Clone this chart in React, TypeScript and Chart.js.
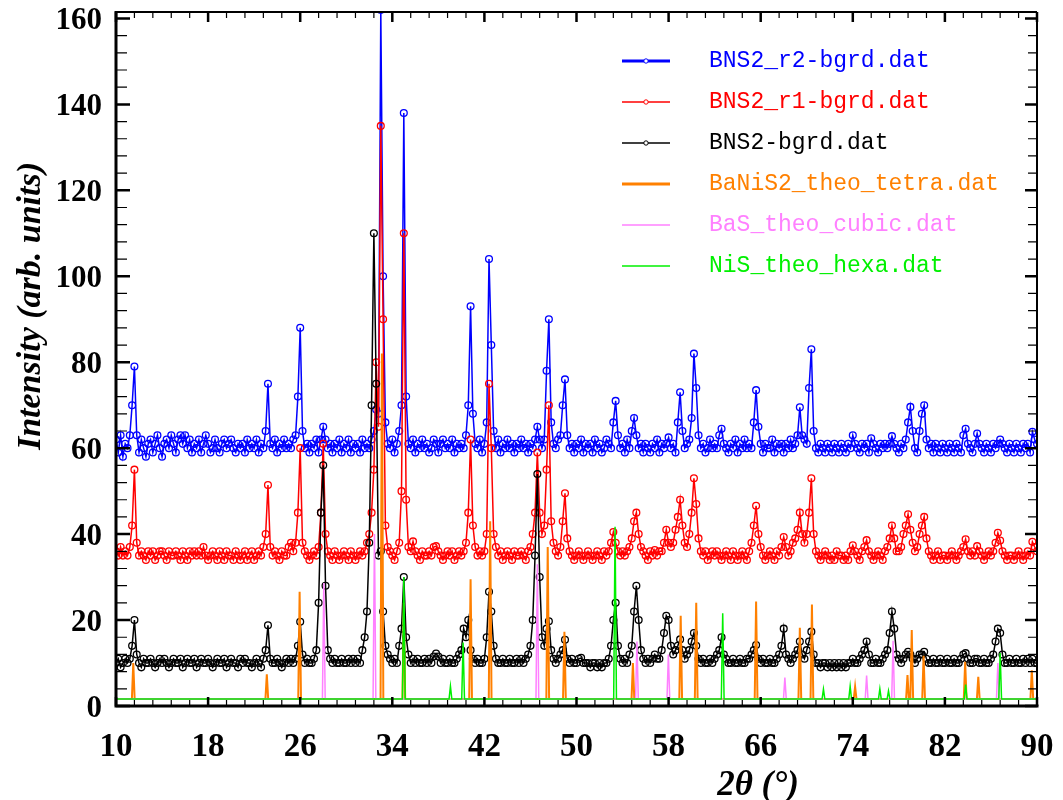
import React, { useEffect, useRef } from 'react';
import { Chart, registerables } from 'chart.js';

Chart.register(...registerables);

// ---- measured patterns: 2θ grid start / step (10.0 … 90.0, 0.2° step) ----
const angleStart = 10;
const angleStep = 0.2;

// BNS2_r2-bgrd.dat (blue)
const bns2R2 = [
  62, 59, 63, 58, 61, // 10
  60, 63, 70, 79, 63, // 11
  59, 62, 60, 58, 61, // 12
  62, 59, 61, 63, 60, // 13
  58, 61, 62, 60, 63, // 14
  61, 59, 62, 63, 61, // 15
  63, 60, 62, 59, 61, // 16
  60, 62, 59, 61, 63, // 17
  61, 59, 60, 62, 60, // 18
  59, 61, 62, 60, 61, // 19
  62, 60, 59, 61, 60, // 20
  61, 59, 62, 60, 61, // 21
  60, 62, 59, 61, 60, // 22
  64, 75, 61, 60, 62, // 23
  59, 61, 60, 62, 60, // 24
  61, 60, 62, 63, 72, // 25
  88, 64, 60, 61, 59, // 26
  61, 60, 62, 59, 62, // 27
  65, 62, 60, 61, 59, // 28
  61, 60, 62, 59, 61, // 29
  60, 62, 59, 61, 60, // 30
  61, 59, 62, 60, 61, // 31
  60, 62, 64, 69, 68, // 32
  162, 100, 66, 61, 60, // 33
  62, 59, 61, 64, 70, // 34
  138, 72, 61, 60, 62, // 35
  59, 61, 60, 62, 60, // 36
  61, 59, 60, 62, 61, // 37
  59, 61, 62, 60, 61, // 38
  60, 62, 59, 61, 60, // 39
  61, 60, 63, 70, 93, // 40
  68, 61, 60, 62, 59, // 41
  61, 66, 104, 84, 64, // 42
  60, 62, 59, 61, 60, // 43
  62, 60, 61, 59, 61, // 44
  60, 62, 60, 61, 59, // 45
  61, 60, 62, 65, 62, // 46
  60, 62, 78, 90, 66, // 47
  61, 60, 62, 63, 70, // 48
  76, 63, 60, 61, 59, // 49
  61, 60, 62, 59, 61, // 50
  60, 61, 59, 62, 60, // 51
  61, 59, 60, 62, 61, // 52
  60, 66, 71, 63, 60, // 53
  61, 59, 62, 60, 64, // 54
  67, 63, 60, 61, 59, // 55
  61, 60, 59, 61, 60, // 56
  62, 59, 61, 60, 61, // 57
  62.5, 60, 61, 59, 66, // 58
  73, 64, 60, 61, 62, // 59
  67, 82, 74, 63, 60, // 60
  61, 59, 60, 62, 60, // 61
  61, 60, 63, 64.5, 61, // 62
  60, 59, 61, 60, 62, // 63
  59, 61, 60, 62, 60, // 64
  61, 60, 66, 73.5, 65, // 65
  61, 59, 61, 60, 60, // 66
  62, 59, 61, 60, 61, // 67
  59, 61, 60, 62, 60, // 68
  61, 63, 69.5, 63, 62, // 69
  61, 74, 83, 64, 60, // 70
  59, 61, 60, 59, 61, // 71
  60, 59, 61, 60, 59, // 72
  61, 60, 59, 61, 60, // 73
  63, 61, 60, 59, 61, // 74
  60, 61, 59, 62.3, 61, // 75
  60, 59, 61, 60, 61, // 76
  60, 61, 62.8, 61, 60, // 77
  59, 61, 60, 62, 66, // 78
  69.6, 64, 60, 59, 64, // 79
  68, 70, 62, 60, 61, // 80
  59, 61, 60, 59, 61, // 81
  60, 59, 61, 60, 59, // 82
  61, 60, 59, 63, 64.5, // 83
  61, 60, 59, 61, 63.4, // 84
  61, 60, 59, 61, 60, // 85
  59, 61, 60, 61, 62, // 86
  61, 60, 59, 61, 60, // 87
  59, 61, 60, 59, 61, // 88
  60, 61, 59, 63.8, 62, // 89
  61, // 90
];

// BNS2_r1-bgrd.dat (red)
const bns2R1 = [
  36, 35, 37, 35, 36, // 10
  35, 37, 42, 55, 38, // 11
  35, 36, 35, 34, 36, // 12
  35, 36, 34, 35, 36, // 13
  36, 35, 34, 36, 35, // 14
  35, 36, 35, 34, 36, // 15
  35, 34, 36, 35, 36, // 16
  35, 36, 35, 37, 35, // 17
  34, 35, 36, 35, 34, // 18
  36, 35, 34, 36, 35, // 19
  35, 34, 36, 35, 34, // 20
  35, 36, 34, 35, 36, // 21
  34, 35, 36, 35, 37, // 22
  40, 51.4, 37, 35, 36, // 23
  35, 34, 36, 35, 35, // 24
  37, 38, 36, 38, 45, // 25
  60, 38, 36, 35, 34, // 26
  35, 36, 35, 37, 45, // 27
  61, 40, 36, 35, 34, // 28
  36, 35, 34, 35, 36, // 29
  35, 34, 36, 35, 34, // 30
  35, 36, 35, 36, 38, // 31
  40, 45, 55, 80, 65, // 32
  135, 90, 42, 37, 36, // 33
  35, 34, 36, 38, 50, // 34
  110, 48, 37, 36, 38.3, // 35
  36, 35, 34, 36, 35, // 36
  35, 36, 35, 37, 37.2, // 37
  36, 35, 34, 35, 36, // 38
  35, 36, 34, 35, 36, // 39
  35, 36, 38, 45, 62, // 40
  42, 37, 35, 36, 35, // 41
  36, 40, 75, 60, 40, // 42
  37, 35, 36, 34, 35, // 43
  36, 35, 34, 36, 35, // 44
  35, 36, 35, 34, 36, // 45
  37, 40, 45, 59, 45, // 46
  40, 42, 55, 70, 43, // 47
  38, 36, 35, 37, 43, // 48
  49.5, 39, 36, 35, 34, // 49
  35, 36, 35, 34, 35, // 50
  36, 35, 34, 35, 36, // 51
  35, 34, 36, 35, 36, // 52
  38, 40.5, 38, 36, 35, // 53
  36, 35, 36, 37, 39, // 54
  43, 45, 40, 37, 36, // 55
  35, 34, 36, 35, 36.3, // 56
  35, 36, 36, 38, 41, // 57
  38, 37, 38, 41, 44, // 58
  48, 42, 38, 37, 40, // 59
  45, 53, 47, 39, 36, // 60
  35, 36, 34, 35, 36, // 61
  35, 36, 35, 34, 35, // 62
  36, 35, 34, 36, 35, // 63
  34, 35, 36, 35, 34, // 64
  36, 38, 42, 46.6, 40, // 65
  37, 35, 34, 35, 36, // 66
  35, 34, 36, 35, 37, // 67
  39.3, 37, 35, 36, 38, // 68
  39, 41, 45, 40, 38, // 69
  40, 45, 53, 40, 36, // 70
  35, 34, 35, 36, 35, // 71
  34, 35, 34, 36, 35, // 72
  35, 34, 35, 34, 36, // 73
  37.4, 36, 35, 34, 36, // 74
  37, 38.6, 36, 35, 34, // 75
  35, 36, 35, 34, 36, // 76
  37, 39, 42, 39, 36, // 77
  36, 37, 40, 42, 44.6, // 78
  41, 38, 36, 37, 40, // 79
  42, 44, 39, 36, 35, // 80
  34, 35, 36, 34, 35, // 81
  35, 34, 35, 36, 35, // 82
  34, 35, 36, 37, 38.8, // 83
  36, 35, 36, 35, 37.2, // 84
  36, 35, 34, 35, 36, // 85
  35, 36, 38, 40.3, 38.5, // 86
  36, 35, 34, 35, 35, // 87
  34, 35, 36, 35, 34, // 88
  35, 36, 35, 38.2, 37, // 89
  36, // 90
];

// BNS2-bgrd.dat (black)
const bns2 = [
  10, 11, 9, 10, 11, // 10
  10, 11, 14, 20, 12, // 11
  10, 9, 11, 10, 10, // 12
  11, 10, 9, 10, 11, // 13
  10, 11, 10, 9, 10, // 14
  11, 10, 10, 11, 9, // 15
  10, 11, 10, 10, 11, // 16
  9, 10, 11, 10, 10, // 17
  11, 10, 9, 10, 11, // 18
  10, 10, 11, 9, 10, // 19
  11, 10, 10, 9, 11, // 20
  10, 11, 10, 10, 9, // 21
  10, 11, 10, 9, 11, // 22
  13, 18.8, 11, 10, 10, // 23
  11, 10, 9, 10, 11, // 24
  10, 11, 10, 11, 14, // 25
  19.6, 12, 10, 11, 10, // 26
  10, 11, 13, 24, 45, // 27
  56, 28, 13, 11, 10, // 28
  11, 10, 10, 11, 10, // 29
  10, 11, 10, 11, 10, // 30
  11, 10, 13, 16, 22, // 31
  38, 70, 110, 75, 35, // 32
  36, 22, 14, 12, 11, // 33
  10, 11, 10, 14, 18, // 34
  30, 16, 12, 10, 11, // 35
  10, 11, 10, 10, 11, // 36
  10, 11, 10, 11.5, 12.2, // 37
  11.5, 10, 11, 10, 10, // 38
  11, 10, 10, 11, 12, // 39
  13, 18, 16, 20, 13, // 40
  11, 10, 11, 10, 10, // 41
  11, 16, 26.6, 22, 14, // 42
  11, 10, 10, 11, 10, // 43
  10, 11, 10, 10, 11, // 44
  10, 11, 10, 11, 12, // 45
  14, 20, 35, 54, 30, // 46
  16, 14, 18, 19.7, 13, // 47
  11, 10, 11, 12, 13, // 48
  15.4, 11, 10, 11, 10, // 49
  10, 11, 11.2, 10, 10, // 50
  10, 9, 10, 10, 9, // 51
  10, 9, 10, 10, 11, // 52
  14, 20, 24, 14, 11, // 53
  10, 11, 10, 12, 14, // 54
  22, 28, 20, 13, 11, // 55
  10, 11, 10, 11, 12, // 56
  11, 11, 13, 17, 21, // 57
  20, 14, 12, 13, 14, // 58
  15.5, 13, 11, 12, 13, // 59
  15, 17, 14, 11, 10, // 60
  11, 10, 10, 11, 10, // 61
  11, 12, 13, 16, 12, // 62
  11, 10, 10, 11, 10, // 63
  10, 11, 10, 10, 11, // 64
  11, 12, 13, 14.2, 11, // 65
  10, 11, 10, 10, 11, // 66
  10, 10, 11, 12, 14, // 67
  18, 12, 11, 10, 11, // 68
  12, 13, 15, 12, 11, // 69
  13, 15, 17.3, 12, 10, // 70
  10, 9, 10, 10, 9, // 71
  10, 9, 10, 9, 10, // 72
  9, 10, 9, 10, 10, // 73
  11, 10, 10, 11, 12, // 74
  13, 15, 12, 10, 10, // 75
  11, 10, 10, 11, 12, // 76
  13, 17, 22, 18, 12, // 77
  11, 10, 11, 12, 12.6, // 78
  12, 11, 10, 11, 12, // 79
  12, 12.6, 11, 10, 10, // 80
  11, 10, 10, 11, 10, // 81
  10, 11, 10, 10, 11, // 82
  10, 10, 11, 12, 12.3, // 83
  11, 10, 10, 11, 11, // 84
  10, 10, 11, 10, 10, // 85
  11, 12, 15, 18, 17, // 86
  12, 10, 10, 11, 10, // 87
  10, 11, 10, 10, 11, // 88
  10, 11, 10, 11, 10, // 89
  10, // 90
];

// ---- theoretical stick patterns ----
const stickBase = 1.6;
const stickHalfWidth = 0.12;

// BaNiS2_theo_tetra.dat (orange)
const tetraPos = [11.5, 23.1, 25.95, 33.1, 35.0, 40.8, 42.5, 47.5, 48.95, 54.9, 59.05, 60.4, 65.6, 69.4, 70.45, 74.2, 78.75, 79.12, 80.15, 83.76, 84.9, 89.55];
const tetraInt = [10, 7.4, 26.6, 82, 24, 29.5, 43, 37, 17.3, 10, 21, 24, 24.3, 18.2, 23.6, 4.5, 7.2, 17.7, 11.7, 10.3, 6.8, 8.3];

// BaS_theo_cubic.dat (pink)
const cubicPos = [28.05, 32.45, 46.6, 55.25, 57.98, 68.1, 75.2, 77.5, 86.6];
const cubicInt = [28.6, 40, 33, 15, 12, 6.6, 7.1, 15.2, 10];

// NiS_theo_hexa.dat (green)
const hexaPos = [35.0, 39.05, 40.15, 53.35, 62.7, 71.45, 73.77, 76.35, 77.1, 83.8, 86.8];
const hexaInt = [30, 4.6, 14.8, 41.7, 21.6, 3.9, 4.6, 4, 3.5, 5, 12.3];

// ---- axes ----
const xTickValues = [10, 18, 26, 34, 42, 50, 58, 66, 74, 82, 90];
const yTickValues = [0, 20, 40, 60, 80, 100, 120, 140, 160];
const xMin = 10;
const xMax = 90;
const yMin = 0;
const yMax = 161.5;
const xTitle = '2θ (°)';
const yTitle = 'Intensity (arb. units)';

const seriesNames = [
  'BNS2_r2-bgrd.dat',
  'BNS2_r1-bgrd.dat',
  'BNS2-bgrd.dat',
  'BaNiS2_theo_tetra.dat',
  'BaS_theo_cubic.dat',
  'NiS_theo_hexa.dat',
];
const seriesColors = ['#0000ff', '#ff0000', '#000000', '#ff8000', '#ff80ff', '#00f000'];

const toPoints = (vals: number[]) =>
  vals.map((v, i) => ({ x: Math.round((angleStart + i * angleStep) * 10) / 10, y: v }));

const toSticks = (pos: number[], ints: number[]) => {
  const pts: { x: number; y: number }[] = [{ x: xMin, y: stickBase }];
  pos.forEach((p, i) => {
    pts.push({ x: p - stickHalfWidth, y: stickBase });
    pts.push({ x: p, y: ints[i] });
    pts.push({ x: p + stickHalfWidth, y: stickBase });
  });
  pts.push({ x: xMax, y: stickBase });
  return pts;
};

const serif = "'Liberation Serif', 'Times New Roman', serif";

const zeroPad = (s: any) => {
  s.paddingTop = 0;
  s.paddingBottom = 0;
  s.paddingLeft = 0;
  s.paddingRight = 0;
};

const decorPlugin = {
  id: 'decor',
  afterDraw(chart: any) {
    const { ctx, chartArea: a, scales } = chart;
    const xs = scales.x;
    const ys = scales.y;
    ctx.save();
    ctx.strokeStyle = '#000';
    ctx.lineCap = 'butt';

    // x ticks (bottom + top), inward
    const xMaj: number[] = xs.ticks.map((t: any) => t.value);
    for (let i = 0; i < xMaj.length; i++) {
      const px = xs.getPixelForValue(xMaj[i]);
      ctx.lineWidth = 2.5;
      ctx.beginPath();
      ctx.moveTo(px, a.bottom); ctx.lineTo(px, a.bottom - 9);
      ctx.moveTo(px, a.top); ctx.lineTo(px, a.top + 10);
      ctx.stroke();
      if (i < xMaj.length - 1) {
        const step = (xMaj[i + 1] - xMaj[i]) / 5;
        ctx.lineWidth = 1.2;
        ctx.beginPath();
        for (let k = 1; k < 5; k++) {
          const mx = xs.getPixelForValue(xMaj[i] + k * step);
          ctx.moveTo(mx, a.bottom); ctx.lineTo(mx, a.bottom - 6);
          ctx.moveTo(mx, a.top); ctx.lineTo(mx, a.top + 6);
        }
        ctx.stroke();
      }
    }
    // y ticks (left + right), inward
    const yMaj: number[] = ys.ticks.map((t: any) => t.value);
    for (let i = 0; i < yMaj.length; i++) {
      const py = ys.getPixelForValue(yMaj[i]);
      ctx.lineWidth = 2.5;
      ctx.beginPath();
      ctx.moveTo(a.left, py); ctx.lineTo(a.left + 14, py);
      ctx.moveTo(a.right, py); ctx.lineTo(a.right - 12, py);
      ctx.stroke();
      if (i < yMaj.length - 1) {
        const step = (yMaj[i + 1] - yMaj[i]) / 5;
        ctx.lineWidth = 1.2;
        ctx.beginPath();
        for (let k = 1; k < 5; k++) {
          const my = ys.getPixelForValue(yMaj[i] + k * step);
          ctx.moveTo(a.left, my); ctx.lineTo(a.left + 11, my);
          ctx.moveTo(a.right, my); ctx.lineTo(a.right - 9, my);
        }
        ctx.stroke();
      }
    }

    // frame
    ctx.lineWidth = 3;
    ctx.beginPath();
    ctx.moveTo(a.left, a.top - 1); ctx.lineTo(a.left, a.bottom + 1.5);
    ctx.moveTo(a.left - 1.5, a.bottom); ctx.lineTo(a.right + 1.5, a.bottom);
    ctx.stroke();
    ctx.lineWidth = 2;
    ctx.beginPath();
    ctx.moveTo(a.left, a.top); ctx.lineTo(a.right, a.top);
    ctx.moveTo(a.right, a.top); ctx.lineTo(a.right, a.bottom);
    ctx.stroke();

    // axis titles
    ctx.fillStyle = '#000';
    ctx.font = `italic bold 34px ${serif}`;
    ctx.textAlign = 'center';
    ctx.textBaseline = 'middle';
    ctx.save();
    ctx.translate(31, 306);
    ctx.rotate(-Math.PI / 2);
    ctx.fillText(yTitle, 0, 0);
    ctx.restore();
    ctx.font = `italic bold 35px ${serif}`;
    ctx.textBaseline = 'top';
    ctx.fillText(xTitle, 758, 768);

    // legend
    const rowY0 = 61;
    const rowGap = 41;
    const lineWidths = [3, 1.5, 1.5, 3, 1.5, 1.5];
    seriesNames.forEach((name, i) => {
      const yy = rowY0 + i * rowGap;
      ctx.strokeStyle = seriesColors[i];
      ctx.lineWidth = lineWidths[i];
      ctx.beginPath();
      ctx.moveTo(622, yy); ctx.lineTo(670, yy);
      ctx.stroke();
      if (i < 3) {
        ctx.lineWidth = 1;
        ctx.fillStyle = '#fff';
        ctx.beginPath();
        ctx.arc(646, yy, 2.2, 0, Math.PI * 2);
        ctx.fill();
        ctx.stroke();
      }
      ctx.fillStyle = seriesColors[i];
      ctx.font = `23px 'Liberation Mono', 'DejaVu Sans Mono', monospace`;
      ctx.textAlign = 'left';
      ctx.textBaseline = 'middle';
      ctx.fillText(name, 709, yy);
    });
    ctx.restore();
  },
};

export default function App() {
  const canvasRef = useRef<HTMLCanvasElement | null>(null);

  useEffect(() => {
    const canvas = canvasRef.current;
    if (!canvas) return;

    const measured = (data: number[], idx: number, order: number) => ({
      label: seriesNames[idx],
      data: toPoints(data),
      borderColor: seriesColors[idx],
      borderWidth: 1.5,
      pointRadius: 3.4,
      pointBorderWidth: 1.3,
      pointBorderColor: seriesColors[idx],
      pointBackgroundColor: 'rgba(255,255,255,0)',
      pointStyle: 'circle',
      tension: 0,
      fill: false,
      order,
    });
    const sticks = (pos: number[], ints: number[], idx: number, width: number, order: number) => ({
      label: seriesNames[idx],
      data: toSticks(pos, ints),
      borderColor: seriesColors[idx],
      borderWidth: width,
      pointRadius: 0,
      tension: 0,
      fill: false,
      order,
    });

    const xTickFont = { family: serif, weight: 'bold' as const, size: 33 };
    const yTickFont = { family: serif, weight: 'bold' as const, size: 31 };

    const chart = new Chart(canvas, {
      type: 'line',
      data: {
        datasets: [
          measured(bns2R2, 0, 5),
          measured(bns2R1, 1, 4),
          measured(bns2, 2, 3),
          sticks(tetraPos, tetraInt, 3, 2, 2),
          sticks(cubicPos, cubicInt, 4, 1.5, 1),
          sticks(hexaPos, hexaInt, 5, 1.5, 0),
        ],
      },
      options: {
        responsive: false,
        animation: false,
        devicePixelRatio: 1,
        events: [],
        layout: { padding: { top: 12, right: 26, left: 0, bottom: 0 }, autoPadding: false },
        plugins: { legend: { display: false }, tooltip: { enabled: false }, title: { display: false } },
        scales: {
          x: {
            type: 'linear',
            min: xMin,
            max: xMax,
            afterBuildTicks: (s: any) => { s.ticks = xTickValues.map((v) => ({ value: v })); },
            afterFit: (s: any) => { s.height = 94; zeroPad(s); },
            ticks: { font: xTickFont, color: '#000', padding: 22, autoSkip: false, maxRotation: 0, minRotation: 0, includeBounds: false },
            grid: { display: false, drawTicks: false },
            border: { display: false },
          },
          y: {
            type: 'linear',
            min: yMin,
            max: yMax,
            afterBuildTicks: (s: any) => { s.ticks = yTickValues.map((v) => ({ value: v })); },
            afterFit: (s: any) => { s.width = 116; zeroPad(s); },
            ticks: { font: yTickFont, color: '#000', padding: 14, labelOffset: 3, autoSkip: false, includeBounds: false },
            grid: { display: false, drawTicks: false },
            border: { display: false },
          },
        },
      } as any,
      plugins: [decorPlugin],
    });

    return () => chart.destroy();
  }, []);

  return (
    <div style={{ position: 'absolute', left: 0, top: 0, width: 1063, height: 800, background: '#fff' }}>
      <canvas ref={canvasRef} width={1063} height={800} style={{ display: 'block', width: 1063, height: 800 }} />
    </div>
  );
}
